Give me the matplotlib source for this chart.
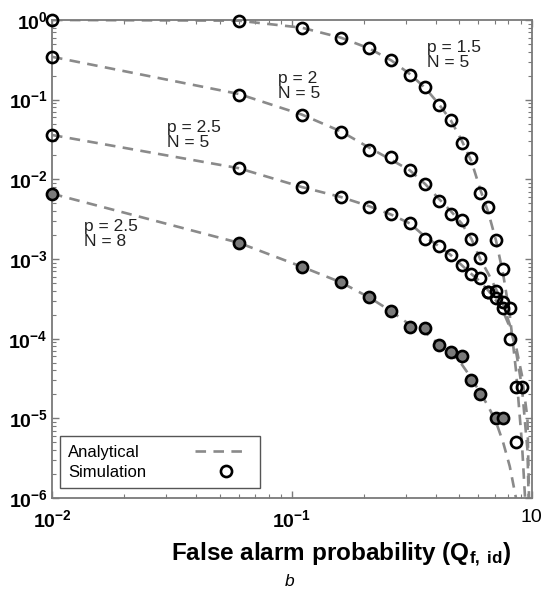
import matplotlib
matplotlib.use("Agg")
import matplotlib.pyplot as plt
from matplotlib.ticker import FixedLocator, FixedFormatter, NullFormatter, LogLocator
from matplotlib.lines import Line2D

plt.rcParams["font.family"] = ["Liberation Sans", "DejaVu Sans"]
plt.rcParams["mathtext.fontset"] = "custom"
plt.rcParams["mathtext.rm"] = "Liberation Sans"
plt.rcParams["mathtext.bf"] = "Liberation Sans:bold"
plt.rcParams["mathtext.it"] = "Liberation Sans:italic"

# analytical curves
q_an = [0.01, 0.06, 0.11, 0.16, 0.21, 0.26, 0.31, 0.36, 0.41, 0.46, 0.51,
        0.56, 0.61, 0.66, 0.71, 0.76, 0.81, 0.86, 0.91, 0.96, 0.99]
an_p15_n5 = [1.0, 0.98, 0.80, 0.60, 0.44, 0.31, 0.21, 0.14, 0.088, 0.055, 0.031,
             0.017, 0.0075, 0.0038, 0.0017, 6.5e-4, 2.0e-4, 4e-5, 5e-6, 3e-7, 1e-8]
an_p2_n5 = [0.345, 0.118, 0.065, 0.040, 0.025, 0.0175, 0.013, 0.0087, 0.0057, 0.0040, 0.0028,
            0.0018, 0.0010, 6.5e-4, 4.2e-4, 2.7e-4, 1.5e-4, 7e-5, 2.5e-5, 4e-6, 1e-7]
an_p25_n5 = [0.036, 0.0138, 0.0080, 0.0060, 0.0046, 0.0036, 0.0028, 0.0019, 0.00145, 0.00112, 8.4e-4,
             6.5e-4, 5.2e-4, 4.0e-4, 3.0e-4, 2.2e-4, 1.4e-4, 8e-5, 3.5e-5, 1e-5, 1e-7]
an_p25_n8 = [0.0066, 0.0016, 8.0e-4, 5.1e-4, 3.3e-4, 2.2e-4, 1.5e-4, 1.2e-4, 8.5e-5, 6.5e-5, 4.8e-5,
             3.2e-5, 2.1e-5, 1.4e-5, 9e-6, 5e-6, 2.5e-6, 1e-6, 3e-7, 1e-7, 1e-8]

# simulation points
sim_q_p15_n5 = [0.01, 0.06, 0.11, 0.16, 0.21, 0.26, 0.31, 0.36, 0.41, 0.46, 0.51,
                0.56, 0.61, 0.66, 0.71, 0.76, 0.81, 0.86]
sim_p15_n5 = [1.0, 0.97, 0.79, 0.60, 0.44, 0.31, 0.204, 0.143, 0.086, 0.0556, 0.0284,
              0.0184, 0.0067, 0.0045, 0.00174, 7.4e-4, 9.9e-5, 5.1e-6]
sim_q_p2_n5 = [0.01, 0.06, 0.11, 0.16, 0.21, 0.26, 0.31, 0.36, 0.41, 0.46, 0.51,
               0.56, 0.61, 0.66, 0.71, 0.76, 0.81, 0.86]
sim_p2_n5 = [0.345, 0.116, 0.064, 0.039, 0.0234, 0.019, 0.0131, 0.0087, 0.0054, 0.0037, 0.0031,
             0.0018, 0.00102, 3.9e-4, 4.0e-4, 2.9e-4, 2.45e-4, 2.5e-5]
sim_q_p25_n5 = [0.01, 0.06, 0.11, 0.16, 0.21, 0.26, 0.31, 0.36, 0.41, 0.46, 0.51,
                0.56, 0.61, 0.66, 0.71, 0.76, 0.91]
sim_p25_n5 = [0.036, 0.0138, 0.0079, 0.006, 0.0045, 0.0037, 0.0028, 0.0018, 0.00145, 0.00112, 8.5e-4,
              6.5e-4, 5.7e-4, 3.8e-4, 3.2e-4, 2.4e-4, 2.5e-5]
sim_q_p25_n8 = [0.01, 0.06, 0.11, 0.16, 0.21, 0.26, 0.31, 0.36, 0.41, 0.46, 0.51,
                0.56, 0.61, 0.71, 0.76]
sim_p25_n8 = [0.0066, 0.0016, 8.0e-4, 5.1e-4, 3.3e-4, 2.2e-4, 1.4e-4, 1.35e-4, 8.3e-5, 6.9e-5, 6.0e-5,
              3.0e-5, 2.0e-5, 1.0e-5, 1.0e-5]

y_ticks = [1e-6, 1e-5, 1e-4, 1e-3, 1e-2, 1e-1, 1e0]
y_labels = [r"$\mathbf{10^{-6}}$", r"$\mathbf{10^{-5}}$", r"$\mathbf{10^{-4}}$", r"$\mathbf{10^{-3}}$",
            r"$\mathbf{10^{-2}}$", r"$\mathbf{10^{-1}}$", r"$\mathbf{10^{0}}$"]
x_ticks = [1e-2, 1e-1, 1e0]
x_labels = [r"$\mathbf{10^{-2}}$", r"$\mathbf{10^{-1}}$", "10"]

curve_notes = [("p = 1.5\nN = 5", 0.365, 0.364),
               ("p = 2\nN = 5", 0.0875, 0.149),
               ("p = 2.5\nN = 5", 0.0301, 0.036),
               ("p = 2.5\nN = 8", 0.0136, 0.00207)]

line_gray = "#8a8a8a"
axis_gray = "#7a7a7a"
dash = (0, (4, 2.8))

fig = plt.figure(figsize=(5.45, 5.98), dpi=100)
ax = fig.add_axes([0.0954, 0.1672, 0.8802, 0.7994])

for y in [an_p15_n5, an_p2_n5, an_p25_n5, an_p25_n8]:
    ax.plot(q_an, y, color=line_gray, lw=1.9, linestyle=dash, zorder=2)

sims = [(sim_q_p15_n5, sim_p15_n5, "none"),
        (sim_q_p2_n5, sim_p2_n5, "none"),
        (sim_q_p25_n5, sim_p25_n5, "none"),
        (sim_q_p25_n8, sim_p25_n8, "#7a7a7a")]
for q, y, face in sims:
    ax.plot(q, y, linestyle="none", marker="o", markersize=8, markeredgewidth=1.9,
            markeredgecolor="black", markerfacecolor=face, clip_on=False, zorder=3)

ax.set_xscale("log")
ax.set_yscale("log")
ax.set_xlim(1e-2, 1)
ax.set_ylim(1e-6, 1)

ax.xaxis.set_major_locator(FixedLocator(x_ticks))
ax.xaxis.set_major_formatter(FixedFormatter(x_labels))
ax.yaxis.set_major_locator(FixedLocator(y_ticks))
ax.yaxis.set_major_formatter(FixedFormatter(y_labels))
ax.xaxis.set_minor_locator(LogLocator(base=10, subs=range(2, 10)))
ax.yaxis.set_minor_locator(LogLocator(base=10, subs=range(2, 10)))
ax.xaxis.set_minor_formatter(NullFormatter())
ax.yaxis.set_minor_formatter(NullFormatter())

ax.tick_params(which="both", direction="in", top=True, right=True, color=axis_gray)
ax.tick_params(which="major", length=5, width=1.0, labelsize=14)
ax.tick_params(which="minor", length=3, width=0.8)
ax.tick_params(axis="x", which="major", pad=8)
ax.tick_params(axis="y", which="major", pad=3)
for s in ax.spines.values():
    s.set_color(axis_gray)
    s.set_linewidth(1.3)

for txt, xq, yq in curve_notes:
    ax.text(xq, yq, txt, fontsize=12.5, va="center", ha="left", linespacing=1.0, color="#222222")

ax.set_xlabel(r"False alarm probability (Q$_{\mathbf{f,\ id}}$)", fontsize=17.5, fontweight="bold")
ax.xaxis.set_label_coords(0.604, -0.09)

handles = [Line2D([], [], color=line_gray, lw=1.9, linestyle=dash),
           Line2D([], [], linestyle="none", marker="o", markersize=8, markeredgewidth=1.9,
                  markeredgecolor="black", markerfacecolor="none")]
leg = ax.legend(handles, ["Analytical", "Simulation"], loc="lower left",
                bbox_to_anchor=(0.0167, 0.021), borderaxespad=0, markerfirst=False,
                fontsize=12, handlelength=3.0, handletextpad=3.3, fancybox=False,
                framealpha=1, edgecolor="#555555", labelspacing=0.3, borderpad=0.5)
leg.get_frame().set_linewidth(1.0)
for col in leg._legend_handle_box.get_children():
    col.align = "left"

fig.text(0.532, 0.027, "b", fontsize=12.5, style="italic", ha="center", va="center")

fig.savefig("out.png", dpi=100)
